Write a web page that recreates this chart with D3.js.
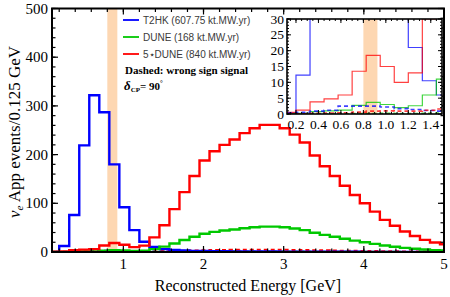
<!DOCTYPE html>
<html>
<head>
<meta charset="utf-8">
<script src="https://cdn.jsdelivr.net/npm/d3@7"></script>
<style>
body { margin: 0; background: #fff; }
</style>
</head>
<body>
<div id="chart"></div>
<script>
// bin edges in GeV (0.125 GeV bins)
var binEdges = [0.075, 0.2, 0.325, 0.45, 0.575, 0.7, 0.825, 0.95, 1.075, 1.2, 1.325, 1.45, 1.575, 1.7, 1.825, 1.95,
  2.075, 2.2, 2.325, 2.45, 2.575, 2.7, 2.825, 2.95, 3.075, 3.2, 3.325, 3.45, 3.575, 3.7, 3.825, 3.95,
  4.075, 4.2, 4.325, 4.45, 4.575, 4.7, 4.825, 4.95, 5.075];

// events per bin, right sign signal
var t2hk = [0.3, 12.3, 76, 219, 322, 287, 180, 92, 45, 21, 10.5, 6, 4, 3, 2.4, 2, 1.7, 1.5, 1.3, 1.2,
  1.1, 1, 0.9, 0.8, 0.7, 0.6, 0.6, 0.5, 0.5, 0.4, 0.4, 0.3, 0.3, 0.3, 0.2, 0.2, 0.2, 0.2, 0.1, 0.1];
var dune = [0.1, 0.24, 0.76, 0.96, 1.2, 2.7, 3.7, 3.0, 2.0, 2.6, 6.0, 11, 17.6, 24.6, 31.2, 37.6, 41.4, 44, 46.2, 48.8,
  50.8, 52.2, 52.2, 50.8, 48.2, 45, 39.6, 35.2, 31.2, 27.2, 23.4, 20, 16.6, 13.2, 10.8, 8.4, 6.6, 5, 3.9, 3.2];
var dune5 = [0.5, 1.2, 3.8, 4.8, 6, 13.5, 18.5, 15, 10, 13, 30, 55, 88, 123, 156, 188, 207, 220, 231, 244,
  254, 261, 261, 254, 241, 225, 198, 176, 156, 136, 117, 100, 83, 66, 54, 42, 33, 25, 19.5, 16];

// wrong sign signal (dashed)
var t2hkWrong = [0.3, 0.5, 0.9, 1.2, 2.5, 2.5, 2.5, 2.2, 1.7, 1.4, 1.1, 0.9, 0.7, 0.6, 0.5, 0.4, 0.4, 0.3, 0.3, 0.3,
  0.2, 0.2, 0.2, 0.2, 0.2, 0.1, 0.1, 0.1, 0.1, 0.1, 0.1, 0.1, 0.1, 0.1, 0.1, 0.1, 0.1, 0.1, 0.1, 0.1];
var duneWrong = [0.02, 0.02, 0.04, 0.06, 0.08, 0.12, 0.18, 0.2, 0.18, 0.18, 0.24, 0.32, 0.4, 0.5, 0.6, 0.7, 0.8, 0.86, 0.9, 0.94,
  0.96, 0.96, 0.94, 0.9, 0.86, 0.8, 0.74, 0.68, 0.6, 0.54, 0.48, 0.42, 0.36, 0.3, 0.26, 0.22, 0.18, 0.16, 0.14, 0.12];
var dune5Wrong = [0.1, 0.1, 0.2, 0.3, 0.4, 0.6, 0.9, 1.0, 0.9, 0.9, 1.2, 1.6, 2, 2.5, 3, 3.5, 4, 4.3, 4.5, 4.7,
  4.8, 4.8, 4.7, 4.5, 4.3, 4, 3.7, 3.4, 3, 2.7, 2.4, 2.1, 1.8, 1.5, 1.3, 1.1, 0.9, 0.8, 0.7, 0.6];

var xTicks = [1, 2, 3, 4, 5];
var yTicks = [0, 100, 200, 300, 400, 500];
var insetXTicks = [0.2, 0.4, 0.6, 0.8, 1.0, 1.2, 1.4];
var insetYTicks = [0, 5, 10, 15, 20, 25, 30];
var band = [0.8, 0.925];

var legendItems = [
  { name: "T2HK (607.75 kt.MW.yr)", color: "#0000ff" },
  { name: "DUNE (168 kt.MW.yr)", color: "#00c800" },
  { name: "5\u22c6DUNE (840 kt.MW.yr)", color: "#ff0000" }
];

var width = 450, height = 297;
var serif = "'Liberation Serif', 'DejaVu Serif', serif";

var svg = d3.select("#chart").append("svg")
  .attr("width", width).attr("height", height)
  .style("display", "block");

var series = [
  { v: t2hk, color: "#0000ff", dash: null },
  { v: dune, color: "#00c800", dash: null },
  { v: dune5, color: "#ff0000", dash: null },
  { v: t2hkWrong, color: "#0000ff", dash: "4,3" },
  { v: duneWrong, color: "#00c800", dash: "4,3" },
  { v: dune5Wrong, color: "#ff0000", dash: "4,3" }
];

function histPoints(v) {
  var pts = [[binEdges[0], 0]];
  v.forEach(function(d, i) { pts.push([binEdges[i], d]); });
  pts.push([binEdges[v.length], v[v.length - 1]]);
  return pts;
}

// draws one frame (main plot or inset)
function panel(opt) {
  var x = d3.scaleLinear().domain(opt.xDomain).range([opt.left, opt.right]);
  var y = d3.scaleLinear().domain(opt.yDomain).range([opt.bottom, opt.top]);
  var g = svg.append("g");
  var id = "clip" + opt.name;

  g.append("clipPath").attr("id", id).append("rect")
    .attr("x", opt.left).attr("y", opt.top)
    .attr("width", opt.right - opt.left).attr("height", opt.bottom - opt.top);

  g.append("rect")
    .attr("x", opt.left).attr("y", opt.top)
    .attr("width", opt.right - opt.left).attr("height", opt.bottom - opt.top)
    .attr("fill", "#fff");

  g.append("rect")
    .attr("x", x(band[0])).attr("y", opt.top)
    .attr("width", x(band[1]) - x(band[0])).attr("height", opt.bottom - opt.top)
    .attr("fill", "#fdd7b2");

  var line = d3.line()
    .x(function(d) { return x(d[0]); })
    .y(function(d) { return y(d[1]); })
    .curve(d3.curveStepAfter);

  var lines = g.append("g").attr("clip-path", "url(#" + id + ")");
  var order = opt.name === "main" ? [3, 4, 5, 0, 1, 2] : [0, 1, 2, 3, 4, 5];
  order.forEach(function(k) {
    var s = series[k];
    lines.append("path")
      .attr("d", line(histPoints(s.v)))
      .attr("fill", "none")
      .attr("stroke", s.color)
      .attr("stroke-opacity", opt.opacity)
      .attr("stroke-width", s.dash ? opt.dashWidth : opt.lineWidth)
      .attr("stroke-dasharray", s.dash);
  });

  // ticks on all four sides, pointing inward
  function ticksOn(axis, scale, tickVals, minorVals, len, minorLen) {
    var sel = g.append("g");
    [[tickVals, len], [minorVals, minorLen]].forEach(function(pair) {
      pair[0].forEach(function(t) {
        if (t < scale.domain()[0] - 1e-9 || t > scale.domain()[1] + 1e-9) return;
        var p = scale(t);
        if (axis === "x") {
          sel.append("line").attr("x1", p).attr("x2", p).attr("y1", opt.bottom).attr("y2", opt.bottom - pair[1]);
          sel.append("line").attr("x1", p).attr("x2", p).attr("y1", opt.top).attr("y2", opt.top + pair[1]);
        } else {
          sel.append("line").attr("y1", p).attr("y2", p).attr("x1", opt.left).attr("x2", opt.left + pair[1]);
          sel.append("line").attr("y1", p).attr("y2", p).attr("x1", opt.right).attr("x2", opt.right - pair[1]);
        }
      });
    });
    sel.selectAll("line").attr("stroke", "#000").attr("stroke-width", opt.tickWidth);
  }
  ticksOn("x", x, opt.xTicks, d3.range(opt.xDomain[0], opt.xDomain[1] + 1e-9, opt.xMinor).map(function(t) { return Math.round(t / opt.xMinor) * opt.xMinor; }), opt.tickLen, opt.minorLen);
  ticksOn("y", y, opt.yTicks, d3.range(opt.yDomain[0], opt.yDomain[1] + 1e-9, opt.yMinor), opt.tickLen, opt.minorLen);

  g.append("rect")
    .attr("x", opt.left).attr("y", opt.top)
    .attr("width", opt.right - opt.left).attr("height", opt.bottom - opt.top)
    .attr("fill", "none").attr("stroke", "#000").attr("stroke-width", opt.frameWidth);

  g.append("g").selectAll("text").data(opt.xTicks).enter().append("text")
    .attr("x", function(d) { return x(d); })
    .attr("y", opt.bottom + opt.xLabelOffset)
    .attr("text-anchor", "middle")
    .attr("font-family", serif).attr("font-size", opt.fontSize)
    .text(function(d) { return opt.xFormat(d); });

  g.append("g").selectAll("text").data(opt.yTicks).enter().append("text")
    .attr("x", opt.left - opt.yLabelOffset)
    .attr("y", function(d) { return y(d) + opt.fontSize * 0.34; })
    .attr("text-anchor", "end")
    .attr("font-family", serif).attr("font-size", opt.fontSize)
    .text(function(d) { return d; });

  return { x: x, y: y };
}

panel({
  name: "main", left: 52, right: 444, top: 8.5, bottom: 252,
  xDomain: [0.11, 5], yDomain: [0, 500],
  xTicks: xTicks, yTicks: yTicks, xMinor: 0.2, yMinor: 20,
  tickLen: 6, minorLen: 3.5, tickWidth: 1.2, frameWidth: 2,
  lineWidth: 2.4, dashWidth: 2, opacity: 1,
  fontSize: 15, xLabelOffset: 17, yLabelOffset: 4,
  xFormat: function(d) { return d; }
});

// legend
var legend = svg.append("g");
legendItems.forEach(function(d, i) {
  var ly = 20 + i * 17;
  legend.append("line").attr("x1", 123).attr("x2", 139).attr("y1", ly).attr("y2", ly)
    .attr("stroke", d.color).attr("stroke-width", 1.8);
  legend.append("text").attr("x", 143).attr("y", ly + 3.6)
    .attr("font-family", "'Liberation Sans', Arial, sans-serif").attr("font-size", 10)
    .attr("fill", "#3a3a3a")
    .text(d.name);
});
legend.append("text").attr("x", 125).attr("y", 74)
  .attr("font-family", serif).attr("font-size", 11).attr("font-weight", "bold")
  .text("Dashed: wrong sign signal");
var dl = legend.append("text").attr("x", 124).attr("y", 90)
  .attr("font-family", serif).attr("font-weight", "bold").attr("font-size", 11);
dl.append("tspan").attr("font-style", "italic").attr("font-size", 13).text("\u03b4");
dl.append("tspan").attr("font-size", 7).attr("dy", 2).text("CP");
dl.append("tspan").attr("dy", -2).text("= 90");
dl.append("tspan").attr("font-size", 7).attr("dy", -5).text("\u00b0");

// inset
panel({
  name: "inset", left: 287, right: 442, top: 19, bottom: 114,
  xDomain: [0.12, 1.5], yDomain: [0, 30],
  xTicks: insetXTicks, yTicks: insetYTicks, xMinor: 0.05, yMinor: 1,
  tickLen: 4, minorLen: 2, tickWidth: 1, frameWidth: 1.6,
  lineWidth: 1.2, dashWidth: 1.6, opacity: 0.75,
  fontSize: 13.5, xLabelOffset: 15, yLabelOffset: 3,
  xFormat: d3.format(".1f")
});

// axis titles
svg.append("text")
  .attr("x", 248).attr("y", 291)
  .attr("text-anchor", "middle")
  .attr("font-family", serif).attr("font-size", 16)
  .text("Reconstructed Energy [GeV]");

var yt = svg.append("text")
  .attr("transform", "translate(20,132) rotate(-90)")
  .attr("text-anchor", "middle")
  .attr("font-family", serif).attr("font-size", 17);
yt.append("tspan").attr("font-style", "italic").text("\u03bd");
yt.append("tspan").attr("font-style", "italic").attr("font-size", 11).attr("dy", 3).text("e");
yt.append("tspan").attr("dy", -3).text(" App events/0.125 GeV");
</script>
</body>
</html>
